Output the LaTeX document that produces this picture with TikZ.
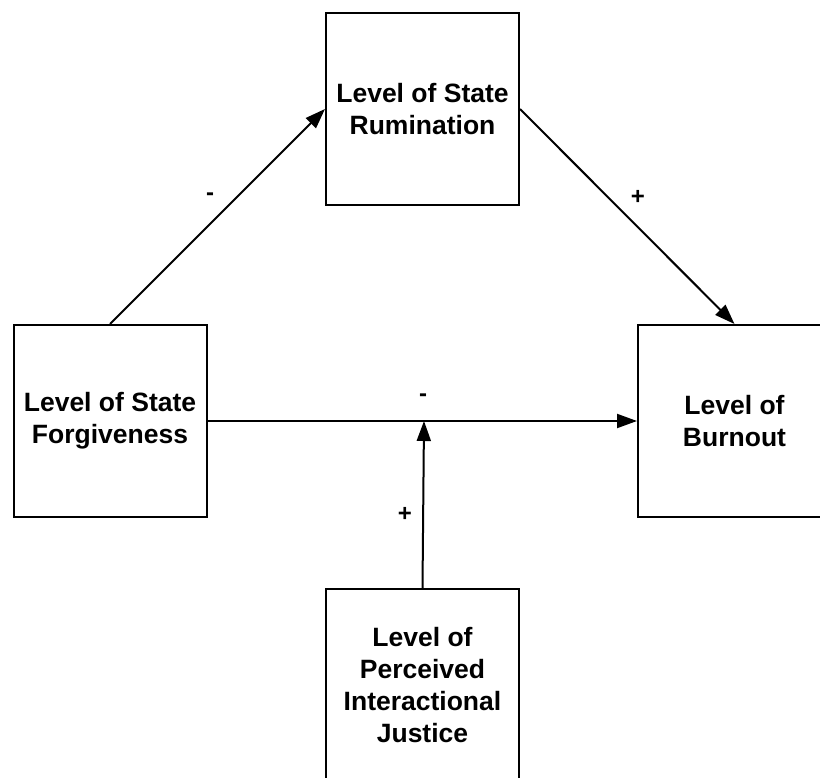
\documentclass[tikz,border=0pt]{standalone}
\usepackage{fontspec}
\setmainfont{Liberation Sans}
\usetikzlibrary{arrows.meta}
\begin{document}
\begin{tikzpicture}[x=1pt,y=-1pt,
  box/.style={draw, line width=2pt, minimum width=193pt, minimum height=192pt, inner sep=0pt, align=center, font=\fontsize{26.5}{32}\selectfont\bfseries},
  link/.style={line width=2pt, -{Triangle[length=20pt,width=14pt]}},
  sign/.style={font=\fontsize{24}{28}\selectfont\bfseries, inner sep=0pt}]
\clip (0,0) rectangle (820,778);
\fill[white] (0,0) rectangle (820,778);
\node[box] (rum) at (422.5,109) {Level of State\\Rumination};
\node[box] (forg) at (110,421) {Level of State\\Forgiveness};
\node[box] (burn) at (734.5,421) {Level of\\Burnout};
\node[box] (just) at (422.5,685) {Level of\\Perceived\\Interactional\\Justice};
\coordinate (j) at (424,421);
\draw[link] (forg.north) -- (rum.west);
\draw[link] (rum.east) -- (burn.north);
\draw[link] (forg.east) -- (burn.west);
\draw[link] (just.north) -- (j);
\node[sign] (s1) at (210,197) {-};
\node[sign] (s2) at (638,197) {+};
\node[sign] (s3) at (423,398) {-};
\node[sign] (s4) at (405,514) {+};
\end{tikzpicture}
\end{document}
